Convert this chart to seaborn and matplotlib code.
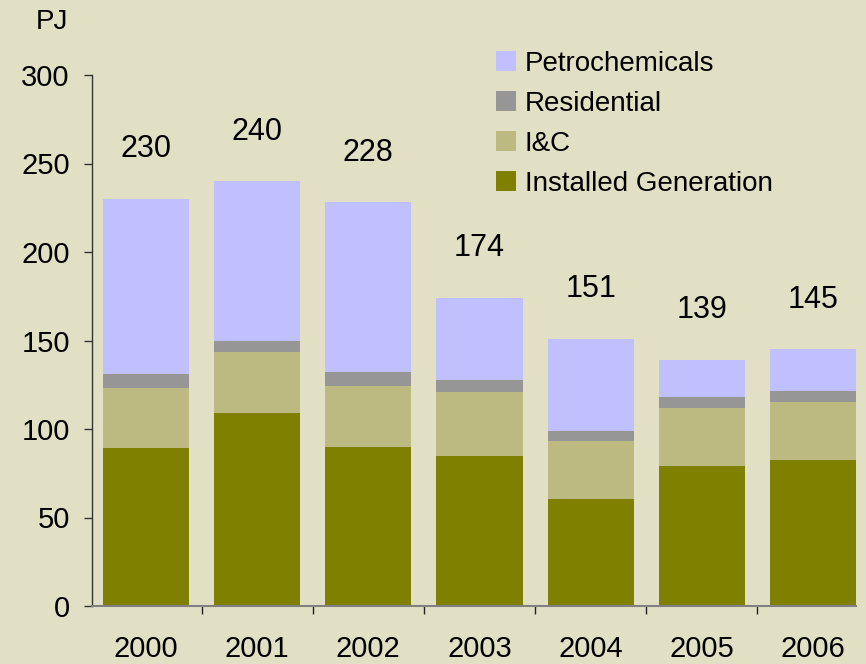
import matplotlib
matplotlib.use("Agg")
from matplotlib import pyplot as plt
from matplotlib.patches import Patch
from matplotlib.ticker import FixedLocator, NullFormatter
import seaborn as sns
import pandas as pd
import numpy as np

##################### Data #################################
years = ["2000", "2001", "2002", "2003", "2004", "2005", "2006"]
installed_gen = [89, 109, 90, 85, 60.5, 79, 82.5]
ic = [34, 34.5, 34.5, 36, 32.5, 33, 33]
residential = [8, 6, 7.5, 6.5, 6, 6, 6]
petrochem = [99, 90.5, 96, 46.5, 52, 21, 23.5]
totals = [230, 240, 228, 174, 151, 139, 145]

series_names = ["Installed Generation", "I&C", "Residential", "Petrochemicals"]
series_colors = ["#808000", "#BCBA80", "#969696", "#C0C0FF"]
bg_color = "#E2E0C4"

##################### Plot #################################
sns.set_theme(style="white")
plt.rcParams['font.family'] = ['Liberation Sans', 'DejaVu Sans']
plt.rcParams['text.color'] = 'black'
plt.rcParams['xtick.labelcolor'] = 'black'
plt.rcParams['ytick.labelcolor'] = 'black'

df = pd.DataFrame({"year": years, "Installed Generation": installed_gen, "I&C": ic,
                   "Residential": residential, "Petrochemicals": petrochem})
cum = df[series_names].cumsum(axis=1)

fig = plt.figure(figsize=(8.66, 6.64), dpi=100)
fig.patch.set_facecolor(bg_color)
ax = fig.add_axes([92 / 866, 58 / 664, 764 / 866, 531 / 664])
ax.set_facecolor(bg_color)

# draw from the top layer down so lower layers sit over the taller bars
for name, color in reversed(list(zip(series_names, series_colors))):
    sns.barplot(x=df["year"], y=cum[name], color=color, width=0.775, saturation=1,
                ax=ax, linewidth=0, errorbar=None)

for i, t in enumerate(totals):
    ax.text(i, t + 28, str(t), ha="center", va="center", fontsize=22, color="black")

ax.set_xlim(-0.486, 6.387)
ax.set_ylim(0, 300)
ax.set_yticks(np.arange(0, 301, 50))
ax.set_xlabel("")
ax.set_ylabel("")

for side in ["top", "right"]:
    ax.spines[side].set_visible(False)
ax.spines["left"].set_color("#333333")
ax.spines["left"].set_linewidth(1.0)
ax.spines["bottom"].set_color("#808080")
ax.spines["bottom"].set_linewidth(1.5)

ax.tick_params(axis="y", direction="out", length=6, width=1, color="#333333",
               labelsize=21, pad=10, left=True)
ax.tick_params(axis="x", which="major", length=0, labelsize=21, pad=21)
ax.xaxis.set_minor_locator(FixedLocator(np.arange(-0.5, 6.6, 1.0)))
ax.xaxis.set_minor_formatter(NullFormatter())
ax.tick_params(axis="x", which="minor", direction="out", length=6, width=1,
               color="#222222", bottom=True)

fig.text(52 / 866, 1 - 22 / 664, "PJ", ha="center", va="center", fontsize=20, color="black")

handles = [Patch(facecolor=c, edgecolor="none") for c in reversed(series_colors)]
labels = list(reversed(series_names))
fig.legend(handles, labels, loc="upper left", bbox_to_anchor=(496 / 866, 1 - 51 / 664),
           frameon=False, fontsize=20, borderpad=0, borderaxespad=0,
           handlelength=0.72, handleheight=0.72, handletextpad=0.32, labelspacing=0.5)

plt.savefig("out.png", dpi=100, facecolor=bg_color)
